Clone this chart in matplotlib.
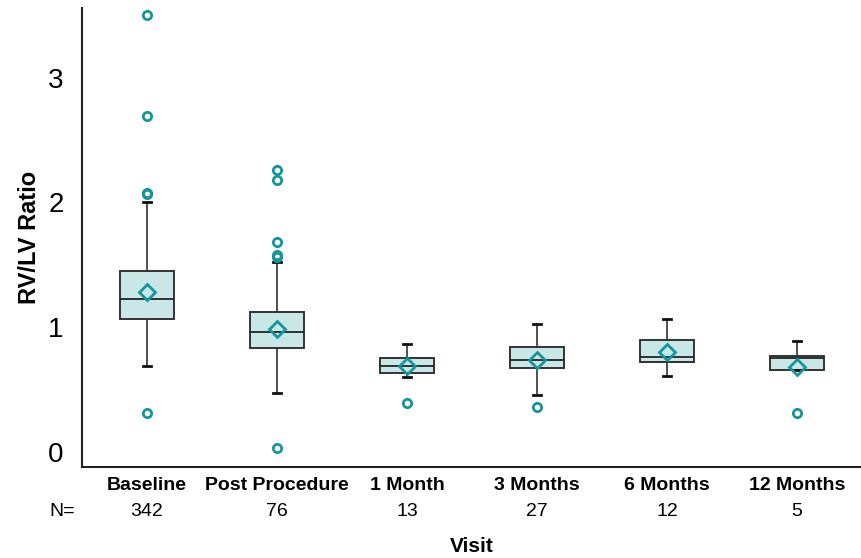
import matplotlib
matplotlib.use("Agg")
import matplotlib.pyplot as plt
import matplotlib.transforms as mtransforms

plt.rcParams['font.family'] = ['Liberation Sans', 'DejaVu Sans']

visits = ["Baseline", "Post Procedure", "1 Month", "3 Months", "6 Months", "12 Months"]
n_counts = ["342", "76", "13", "27", "12", "5"]

whislo = [0.69, 0.47, 0.60, 0.46, 0.61, 0.66]
q1 = [1.07, 0.83, 0.63, 0.67, 0.72, 0.66]
med = [1.23, 0.96, 0.69, 0.74, 0.76, 0.75]
q3 = [1.45, 1.12, 0.75, 0.84, 0.90, 0.77]
whishi = [2.00, 1.52, 0.87, 1.03, 1.07, 0.89]
means = [1.28, 0.99, 0.69, 0.74, 0.80, 0.68]
outliers = [
    [3.50, 2.69, 2.07, 2.08, 0.31],
    [2.26, 2.18, 1.68, 1.58, 1.56, 0.03],
    [0.39],
    [0.36],
    [],
    [0.31],
]

teal = "#13979c"
stats = []
for i in range(len(visits)):
    stats.append(dict(label=visits[i], whislo=whislo[i], q1=q1[i], med=med[i],
                      q3=q3[i], whishi=whishi[i], mean=means[i], fliers=outliers[i]))

fig = plt.figure(figsize=(8.62, 5.58), dpi=100)
ax = fig.add_axes([0.095, 0.163, 0.905, 0.823])

ax.bxp(stats, positions=range(len(visits)), widths=0.41, showmeans=True,
       patch_artist=True,
       boxprops=dict(facecolor="#c9e7e7", edgecolor="#333333", linewidth=1.4),
       medianprops=dict(color="#222222", linewidth=1.3),
       whiskerprops=dict(color="#333333", linewidth=1.2),
       capprops=dict(color="#111111", linewidth=2.0),
       capwidths=0.06,
       meanprops=dict(marker="D", markerfacecolor="none", markeredgecolor=teal,
                      markeredgewidth=2.0, markersize=8),
       flierprops=dict(marker="o", markerfacecolor="none", markeredgecolor=teal,
                       markeredgewidth=2.0, markersize=6))

ax.set_xlim(-0.5, 5.5)
ax.set_ylim(-0.12, 3.56)
ax.set_yticks([0, 1, 2, 3])
ax.tick_params(axis="y", length=0, labelsize=20, pad=13)
ax.tick_params(axis="x", length=0, labelsize=14, pad=7)
for lab in ax.get_xticklabels():
    lab.set_fontweight("bold")

ax.spines["top"].set_visible(False)
ax.spines["right"].set_visible(False)
for side in ["left", "bottom"]:
    ax.spines[side].set_linewidth(1.5)
    ax.spines[side].set_color("#222222")

ax.set_ylabel("RV/LV Ratio", fontsize=17, fontweight="bold", labelpad=5)

trans = mtransforms.blended_transform_factory(ax.transData, ax.transAxes)
ax.text(-0.65, -0.096, "N=", transform=trans, ha="center", va="center", fontsize=14)
for i, n in enumerate(n_counts):
    ax.text(i, -0.096, n, transform=trans, ha="center", va="center", fontsize=14)

ax.text(0.5, -0.172, "Visit", transform=ax.transAxes, ha="center", va="center",
        fontsize=15, fontweight="bold")

fig.savefig("out.png", dpi=100)
